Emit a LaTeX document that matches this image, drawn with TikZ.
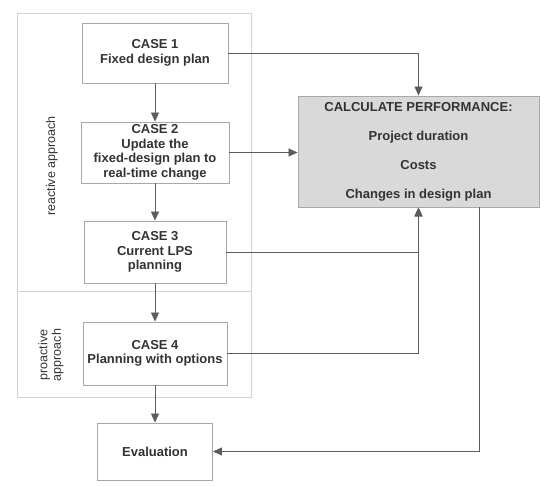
\documentclass[tikz,border=0pt]{standalone}
\usepackage{fontspec}
\setmainfont{Liberation Sans}
\usetikzlibrary{arrows.meta}
\definecolor{txt}{HTML}{333333}
\definecolor{boxline}{HTML}{A8A8A8}
\definecolor{arrline}{HTML}{5C5C5C}
\definecolor{regline}{HTML}{D2D2D2}
\definecolor{calcfill}{HTML}{D9D9D9}
\tikzset{
  casebox/.style={draw=boxline, line width=0.9pt, fill=white, align=center, text=txt, font=\fontsize{13}{14.5}\selectfont\bfseries, inner sep=0pt},
  region/.style={draw=regline, line width=0.8pt, inner sep=0pt},
  sidelabel/.style={text=txt, font=\fontsize{12.5}{13.5}\selectfont, rotate=90, align=center},
  conn/.style={draw=arrline, line width=0.8pt},
  arr/.style={conn, -{Triangle[length=9pt,width=8pt]}, arrline}
}
\begin{document}
\begin{tikzpicture}[x=1pt,y=-1pt]
\useasboundingbox (0,0) rectangle (550,487);
% regions
\node[region, minimum width=234pt, minimum height=278pt] (reg1) at (134,152) {};
\node[region, minimum width=234pt, minimum height=106pt] (reg2) at (134,344) {};
\node[sidelabel] (lab1) at (52,166) {reactive approach};
\node[sidelabel] (lab2) at (51,355) {proactive\\approach};
% boxes
\node[casebox, minimum width=146pt, minimum height=60pt] (c1) at (155,53) {CASE 1\\Fixed design plan};
\node[casebox, minimum width=148pt, minimum height=61pt] (c2) at (155,152.5) {CASE 2\\Update the\\fixed-design plan to\\real-time change};
\node[casebox, minimum width=142pt, minimum height=62pt] (c3) at (155,252) {CASE 3\\Current LPS\\planning};
\node[casebox, minimum width=144pt, minimum height=63pt] (c4) at (155,353.5) {CASE 4\\Planning with options};
\node[casebox, minimum width=115pt, minimum height=57pt] (ev) at (155,451.5) {Evaluation};
\node[casebox, fill=calcfill, minimum width=241pt, minimum height=111pt, font=\fontsize{13}{29}\selectfont\bfseries] (calc) at (418.5,151.5) {CALCULATE PERFORMANCE:\\Project duration\\Costs\\Changes in design plan};
% vertical arrows
\draw[arr] (c1.south) -- (c2.north);
\draw[arr] (c2.south) -- (c3.north);
\draw[arr] (c3.south) -- (c4.north);
\draw[arr] (c4.south) -- (ev.north);
% to calc
\draw[arr] (c1.east) -| (calc.north);
\draw[arr] (c2.east) -- (c2.east -| calc.west);
\draw[arr] (c3.east) -| (calc.south);
\draw[arr] (c4.east) -| (calc.south);
\coordinate (cs) at ([xshift=60.5pt]calc.south);
\draw[arr] (cs) |- (ev.east);
\end{tikzpicture}
\end{document}
